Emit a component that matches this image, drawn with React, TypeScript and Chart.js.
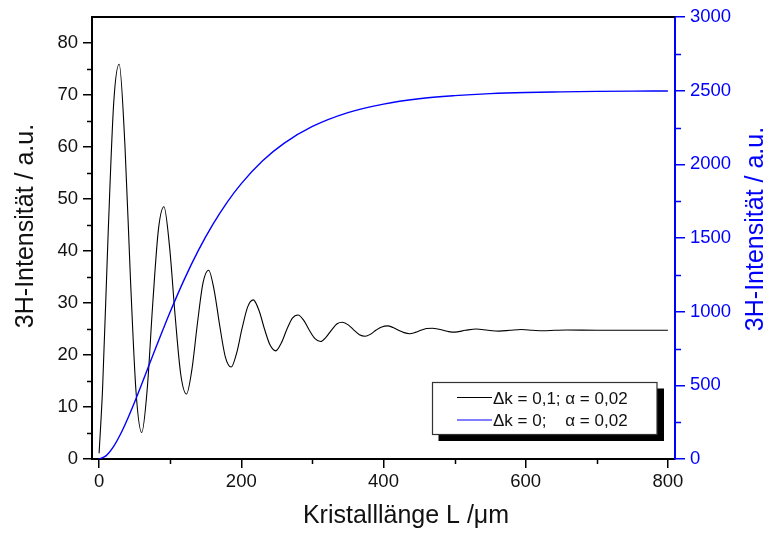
import React, { useEffect, useRef } from 'react';
import { Chart, registerables } from 'chart.js';

Chart.register(...registerables);

// Kristalllänge L (µm) and 3H intensity for Δk = 0,1; α = 0,02 (left axis)
const blackL = [0, 4.9, 12.7, 20.6, 28.2, 36.3, 44.1, 52.0, 60.0, 67.7, 75.5, 83.4, 91.2, 99.1, 106.9, 114.8, 122.9, 130.5, 138.4, 146.2, 154.0, 161.9, 169.8, 177.6, 185.8, 193.3, 201.2, 209.1, 216.8, 224.8, 232.6, 240.5, 248.4, 256.2, 264.0, 271.9, 279.8, 287.6, 295.5, 303.3, 311.5, 319.0, 326.9, 334.7, 342.4, 350.4, 358.3, 366.1, 374.3, 381.8, 389.7, 397.5, 405.8, 413.2, 421.1, 429.0, 436.5, 444.7, 452.5, 460.4, 469.0, 476.1, 483.9, 491.8, 500.0, 515.4, 530.5, 546.8, 562.5, 578, 594, 610, 625, 641, 657, 700, 750, 800];
const blackI = [1.1, 13.6, 43.3, 68.6, 75.9, 60.4, 34.6, 12.8, 5.1, 13.5, 30.0, 44.1, 48.5, 40.8, 27.6, 16.3, 12.5, 17.2, 26.2, 33.9, 36.3, 32.4, 25.5, 19.6, 17.7, 20.3, 25.2, 29.3, 30.6, 28.6, 25.0, 21.9, 20.8, 22.3, 24.9, 27.1, 27.7, 26.7, 24.8, 23.2, 22.6, 23.4, 24.8, 26.0, 26.3, 25.8, 24.8, 23.9, 23.6, 24.0, 24.8, 25.4, 25.6, 25.3, 24.75, 24.3, 24.1, 24.35, 24.75, 25.1, 25.15, 25.0, 24.75, 24.5, 24.4, 24.75, 25.0, 24.75, 24.6, 24.75, 24.9, 24.75, 24.65, 24.75, 24.8, 24.75, 24.75, 24.75];

// Kristalllänge L (µm) and 3H intensity for Δk = 0; α = 0,02 (right axis)
const blueL = [0, 10, 20, 30, 40, 50, 60, 70, 80, 90, 100, 120, 140, 160, 180, 200, 230, 260, 300, 350, 400, 450, 500, 550, 600, 650, 700, 750, 800];
const blueI = [0, 23, 82, 168, 272, 387, 509, 634, 758, 880, 999, 1221, 1419, 1592, 1742, 1869, 2024, 2142, 2257, 2351, 2409, 2445, 2466, 2480, 2488, 2492, 2495, 2497, 2498];

const xTicks = [0, 200, 400, 600, 800];
const xMinorTicks = [100, 300, 500, 700];
const yTicks = [0, 10, 20, 30, 40, 50, 60, 70, 80];
const yMinorTicks = [5, 15, 25, 35, 45, 55, 65, 75];
const y2Ticks = [0, 500, 1000, 1500, 2000, 2500, 3000];
const y2MinorTicks = [250, 750, 1250, 1750, 2250, 2750];

const xTitle = 'Kristalllänge L /μm';
const yTitle = '3H-Intensität / a.u.';
const legend1 = 'Δk = 0,1; α = 0,02';
const legend2a = 'Δk = 0;';
const legend2b = 'α = 0,02';

const FONT = '"Liberation Sans", Arial, sans-serif';
const BLUE = '#0000ff';

const decorPlugin = {
  id: 'decor',
  afterDraw(chart: any) {
    const ctx = chart.ctx as CanvasRenderingContext2D;
    const { left, right, top, bottom } = chart.chartArea;
    const sx = chart.scales.x;
    const sy = chart.scales.y;
    const sy2 = chart.scales.y2;
    ctx.save();
    // top frame
    ctx.strokeStyle = '#000';
    ctx.lineWidth = 2;
    ctx.beginPath();
    ctx.moveTo(left - 1, top);
    ctx.lineTo(right, top);
    ctx.stroke();
    // minor ticks
    ctx.lineWidth = 1.5;
    ctx.beginPath();
    xMinorTicks.forEach((v) => {
      const p = Math.round(sx.getPixelForValue(v)) + 0.5;
      ctx.moveTo(p, bottom);
      ctx.lineTo(p, bottom + 5);
    });
    yMinorTicks.forEach((v) => {
      const p = Math.round(sy.getPixelForValue(v)) + 0.5;
      ctx.moveTo(left, p);
      ctx.lineTo(left - 5, p);
    });
    ctx.stroke();
    ctx.strokeStyle = BLUE;
    ctx.beginPath();
    y2MinorTicks.forEach((v) => {
      const p = Math.round(sy2.getPixelForValue(v)) + 0.5;
      ctx.moveTo(right, p);
      ctx.lineTo(right + 6, p);
    });
    ctx.stroke();

    // axis titles
    ctx.font = `25px ${FONT}`;
    ctx.fillStyle = '#111';
    ctx.textAlign = 'center';
    ctx.textBaseline = 'alphabetic';
    ctx.fillText(xTitle, 406, 523);
    ctx.save();
    ctx.translate(33, 226);
    ctx.rotate(-Math.PI / 2);
    ctx.fillText(yTitle, 0, 0);
    ctx.restore();
    ctx.save();
    ctx.fillStyle = BLUE;
    ctx.translate(763, 229);
    ctx.rotate(-Math.PI / 2);
    ctx.fillText(yTitle, 0, 0);
    ctx.restore();

    // legend
    ctx.fillStyle = '#000';
    ctx.fillRect(438.5, 388.5, 225.5, 52.5);
    ctx.fillStyle = '#fff';
    ctx.fillRect(432, 382, 225, 52.5);
    ctx.strokeStyle = '#333';
    ctx.lineWidth = 1.2;
    ctx.strokeRect(432.5, 382.5, 224.5, 52);
    ctx.lineWidth = 1.2;
    ctx.strokeStyle = '#000';
    ctx.beginPath();
    ctx.moveTo(457, 397.5);
    ctx.lineTo(492, 397.5);
    ctx.stroke();
    ctx.strokeStyle = BLUE;
    ctx.beginPath();
    ctx.moveTo(457, 420);
    ctx.lineTo(492, 420);
    ctx.stroke();
    ctx.font = `17px ${FONT}`;
    ctx.fillStyle = '#111';
    ctx.textAlign = 'left';
    ctx.fillText(legend1, 493, 403.5);
    ctx.fillText(legend2a, 493, 425.5);
    const ax = 493 + ctx.measureText('Δk = 0,1; ').width;
    ctx.fillText(legend2b, ax, 425.5);
    ctx.restore();
  },
};

export default function App() {
  const ref = useRef<HTMLCanvasElement>(null);
  useEffect(() => {
    if (!ref.current) return;
    const tickFont = { family: FONT, size: 18.5 };
    const plain = (v: any) => String(v);
    const chart = new Chart(ref.current, {
      type: 'line',
      data: {
        datasets: [
          {
            label: legend1,
            data: blackL.map((x, i) => ({ x, y: blackI[i] })),
            borderColor: '#000',
            borderWidth: 1.1,
            pointRadius: 0,
            fill: false,
            cubicInterpolationMode: 'monotone',
            yAxisID: 'y',
            order: 2,
          },
          {
            label: 'Δk = 0; α = 0,02',
            data: blueL.map((x, i) => ({ x, y: blueI[i] })),
            borderColor: BLUE,
            borderWidth: 1.4,
            pointRadius: 0,
            fill: false,
            cubicInterpolationMode: 'monotone',
            yAxisID: 'y2',
            order: 1,
          },
        ],
      },
      options: {
        animation: false,
        responsive: false,
        maintainAspectRatio: false,
        devicePixelRatio: 1,
        layout: { padding: { top: 17, left: 0, right: 0, bottom: 0 } },
        plugins: { legend: { display: false }, tooltip: { enabled: false } },
        scales: {
          x: {
            type: 'linear',
            position: 'bottom',
            min: -10,
            max: 810,
            afterBuildTicks: (s: any) => {
              s.ticks = xTicks.map((v) => ({ value: v }));
            },
            afterFit: (s: any) => {
              s.height = 75;
            },
            grid: { display: true, drawOnChartArea: false, drawTicks: true, tickLength: 9, color: '#000', lineWidth: 1.5 },
            border: { display: true, color: '#000', width: 2 },
            ticks: { color: '#111', font: tickFont, padding: 3, maxRotation: 0, autoSkip: false, callback: plain },
          },
          y: {
            type: 'linear',
            position: 'left',
            min: 0,
            max: 85,
            afterBuildTicks: (s: any) => {
              s.ticks = yTicks.map((v) => ({ value: v }));
            },
            afterFit: (s: any) => {
              s.width = 92;
            },
            grid: { display: true, drawOnChartArea: false, drawTicks: true, tickLength: 9, color: '#000', lineWidth: 1.5 },
            border: { display: true, color: '#000', width: 2 },
            ticks: { color: '#111', font: tickFont, padding: 5, autoSkip: false, callback: plain },
          },
          y2: {
            type: 'linear',
            position: 'right',
            min: 0,
            max: 3000,
            afterBuildTicks: (s: any) => {
              s.ticks = y2Ticks.map((v) => ({ value: v }));
            },
            afterFit: (s: any) => {
              s.width = 93;
            },
            grid: { display: true, drawOnChartArea: false, drawTicks: true, tickLength: 10, color: BLUE, lineWidth: 1.5 },
            border: { display: true, color: BLUE, width: 2 },
            ticks: { color: BLUE, font: tickFont, padding: 5, autoSkip: false, callback: plain },
          },
        },
      } as any,
      plugins: [decorPlugin],
    });
    return () => chart.destroy();
  }, []);
  return (
    <div style={{ position: 'fixed', left: 0, top: 0, width: 768, height: 534, background: '#fff' }}>
      <canvas ref={ref} width={768} height={534} style={{ display: 'block', width: 768, height: 534 }} />
    </div>
  );
}
